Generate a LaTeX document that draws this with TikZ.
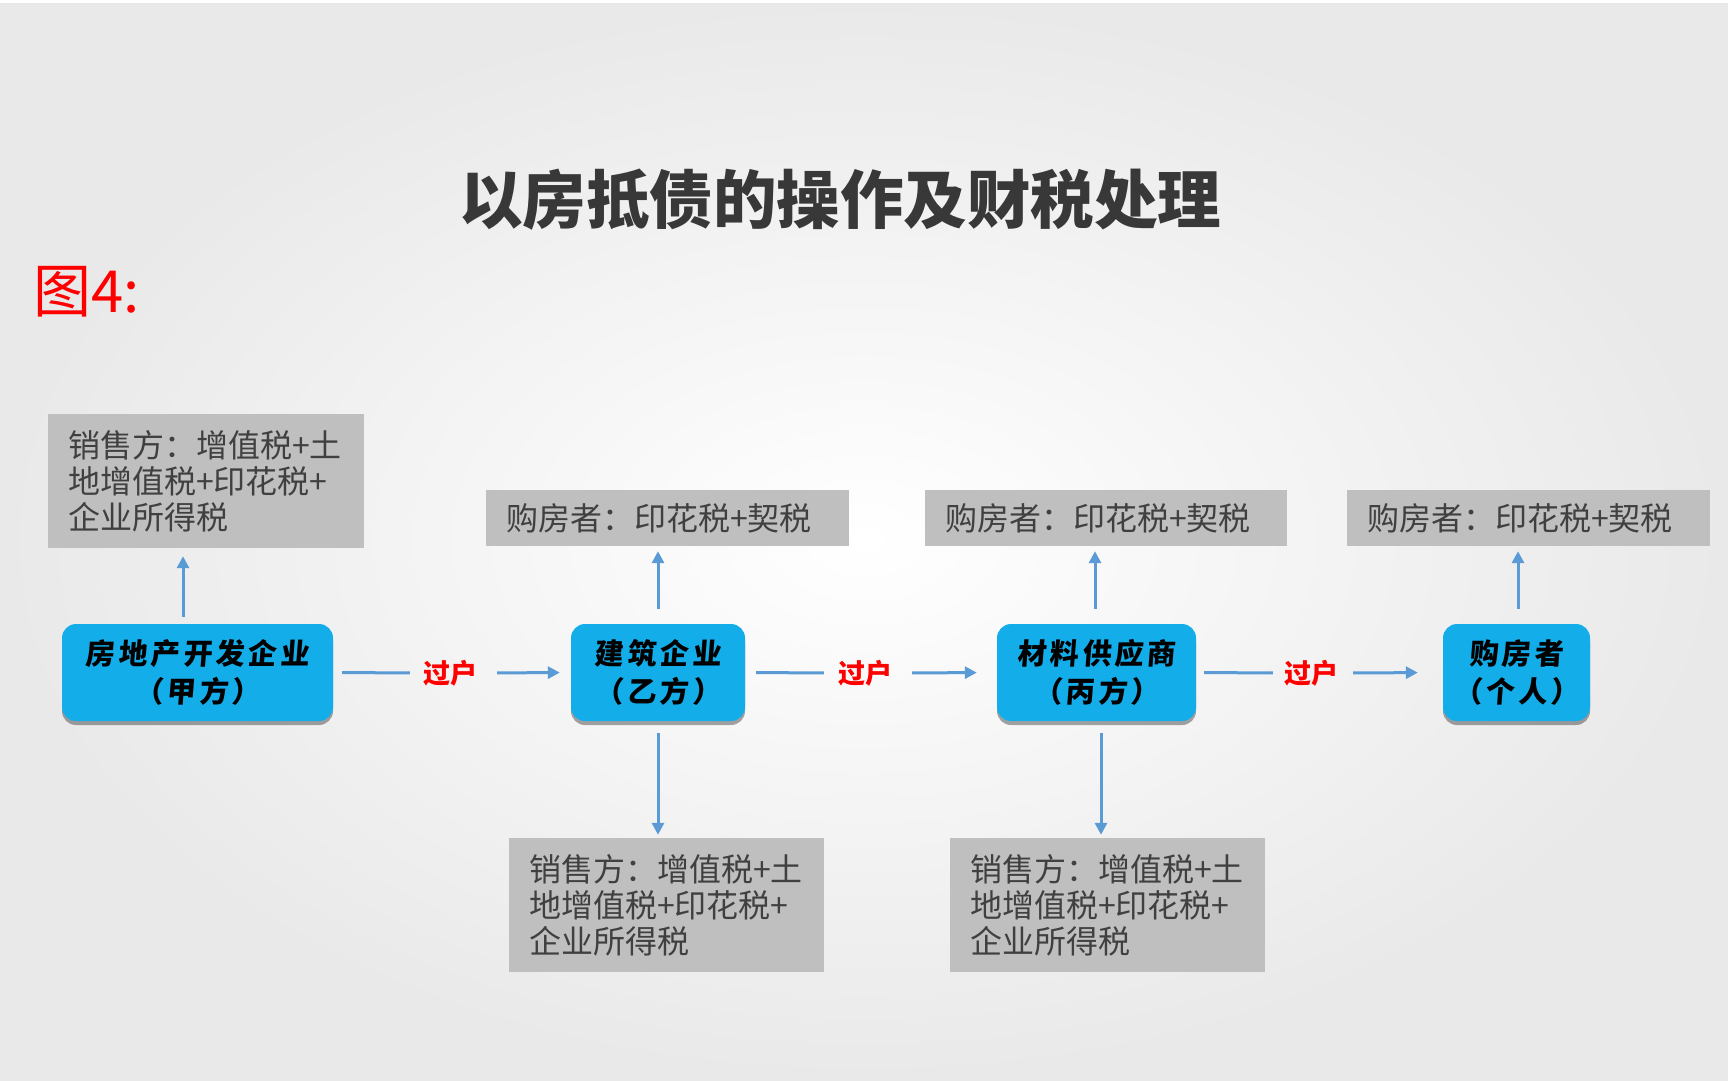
\documentclass[tikz,border=0pt]{standalone}
\usepackage{fontspec}
\setmainfont{Noto Sans CJK SC}
\newfontfamily\cjk{Noto Sans CJK SC}
\newfontfamily\cjkwide[LetterSpace=12,FakeSlant=0.08]{Noto Sans CJK SC}
\usetikzlibrary{arrows.meta,shadows,calc}
\definecolor{boxblue}{HTML}{13AEEA}
\definecolor{arrblue}{HTML}{5B9BD5}
\definecolor{taxgray}{HTML}{BFBFBF}
\definecolor{taxtext}{HTML}{404040}
\definecolor{titlegray}{HTML}{383838}
\definecolor{bgedge}{HTML}{E9E9E9}
\begin{document}
\begin{tikzpicture}[x=1pt,y=-1pt,
  party/.style={fill=boxblue, rounded corners=14pt, align=center, text=black,
    font=\cjkwide\bfseries\fontsize{29}{38}\selectfont, inner sep=0pt,
    drop shadow={shadow xshift=0pt, shadow yshift=-4pt, fill=black, opacity=.35}},
  taxbox/.style={fill=taxgray, align=left, text=taxtext, inner xsep=20pt, inner ysep=0pt,
    font=\cjk\fontsize{32}{36}\selectfont},
  passlabel/.style={text=red, font=\cjk\bfseries\fontsize{27}{27}\selectfont, inner sep=0pt},
  link/.style={draw=arrblue, line width=3pt},
  flow/.style={link, -{Triangle[length=12pt,width=12pt]}},
]
\useasboundingbox (0,0) rectangle (1728,1080);
\shade[inner color=white, outer color=bgedge] (0,0) rectangle (1728,1080);
\fill[white] (0,0) rectangle (1728,3);

\node[text=titlegray, font=\cjk\bfseries\fontsize{63.5}{63.5}\selectfont, inner sep=0pt] (title) at (840,200) {以房抵债的操作及财税处理};
\node[text=red, font=\cjk\fontsize{58}{58}\selectfont, anchor=west, inner sep=0pt] (fig) at (33,292) {图4:};

% parties
\node[party, minimum width=271pt, minimum height=97pt] (b1) at (197.5,672.5) {房地产开发企业\\（甲方）};
\node[party, minimum width=174pt, minimum height=97pt] (b2) at (658,672.5) {建筑企业\\（乙方）};
\node[party, minimum width=199pt, minimum height=97pt] (b3) at (1096.5,672.5) {材料供应商\\（丙方）};
\node[party, minimum width=147pt, minimum height=97pt] (b4) at (1516.5,672.5) {购房者\\（个人）};

% tax boxes
\node[taxbox, text width=276pt, minimum height=134pt] (g1) at (206,481) {销售方：增值税+土\\地增值税+印花税+\\企业所得税};
\node[taxbox, text width=323pt, minimum height=56pt] (t2) at (667.5,518) {购房者：印花税+契税};
\node[taxbox, text width=322pt, minimum height=56pt] (t3) at (1106,518) {购房者：印花税+契税};
\node[taxbox, text width=323pt, minimum height=56pt] (t4) at (1528.5,518) {购房者：印花税+契税};
\node[taxbox, text width=275pt, minimum height=134pt] (s2) at (666.5,905) {销售方：增值税+土\\地增值税+印花税+\\企业所得税};
\node[taxbox, text width=275pt, minimum height=134pt] (s3) at (1107.5,905) {销售方：增值税+土\\地增值税+印花税+\\企业所得税};

% transfer labels
\node[passlabel] (p1) at (450,673) {过户};
\node[passlabel] (p2) at (865,673) {过户};
\node[passlabel] (p3) at (1311,673) {过户};

\draw[link, shorten <=9pt, shorten >=13pt] (b1.east) -- (p1.west);
\draw[flow, shorten <=20pt, shorten >=11pt] (p1.east) -- (b2.west);
\draw[link, shorten <=11pt, shorten >=14pt] (b2.east) -- (p2.west);
\draw[flow, shorten <=20pt, shorten >=20pt] (p2.east) -- (b3.west);
\draw[link, shorten <=8pt, shorten >=11pt] (b3.east) -- (p3.west);
\draw[flow, shorten <=15pt, shorten >=25pt] (p3.east) -- (b4.west);

% vertical arrows
\coordinate (x1) at (183,0);
\coordinate (x2) at (658,0);
\coordinate (x3) at (1095,0);
\coordinate (x3d) at (1101,0);
\coordinate (x4) at (1518,0);
\draw[flow, shorten <=7pt, shorten >=8pt] (b1.north -| x1) -- (g1.south -| x1);
\draw[flow, shorten <=15pt, shorten >=5pt] (b2.north -| x2) -- (t2.south -| x2);
\draw[flow, shorten <=15pt, shorten >=5pt] (b3.north -| x3) -- (t3.south -| x3);
\draw[flow, shorten <=15pt, shorten >=5pt] (b4.north -| x4) -- (t4.south -| x4);
\draw[flow, shorten <=12pt, shorten >=3pt] (b2.south -| x2) -- (s2.north -| x2);
\draw[flow, shorten <=12pt, shorten >=3pt] (b3.south -| x3d) -- (s3.north -| x3d);
\end{tikzpicture}
\end{document}
